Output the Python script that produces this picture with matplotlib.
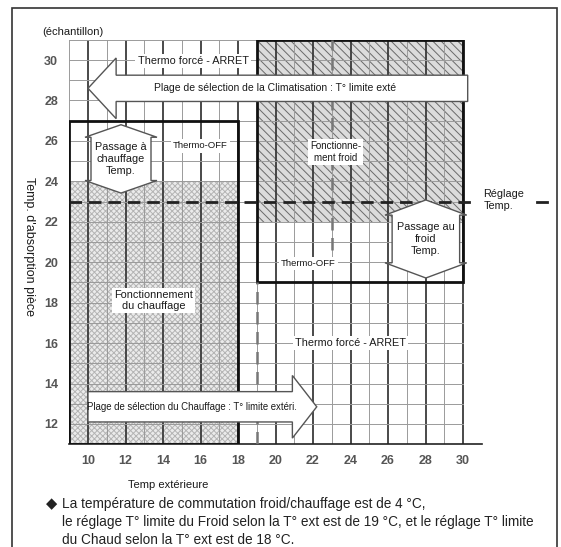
import numpy as np
import matplotlib

matplotlib.use('Agg')
import matplotlib.pyplot as plt
import matplotlib.patches as mpatches

plt.rcParams['font.family'] = ['Liberation Sans', 'DejaVu Sans']
plt.rcParams['hatch.linewidth'] = 0.7

# ===================== 数据 =====================
x_ticks = [10, 12, 14, 16, 18, 20, 22, 24, 26, 28, 30]
y_ticks = [12, 14, 16, 18, 20, 22, 24, 26, 28, 30]
x_min, x_max, x_axis_end = 9, 30, 31
y_min, y_max = 11, 31

heat_box = (9, 18, 11, 27)      # x0, x1, y0, y1
heat_dots_top = 24
cool_box = (19, 30, 19, 31)
cool_hatch_bottom = 22
setpoint = 23
cool_limit = 19
cool_dash_x = 23

# 箭头参数 (中心, 范围, 宽度)
clim_arrow = dict(y=28.6, x_tail=30.25, x_tip=10.0, half_w=0.65, head_half=1.5, head_len=1.5)
chauf_arrow = dict(y=12.85, x_tail=10.0, x_tip=22.2, half_w=0.75, head_half=1.55, head_len=1.3)
pass_heat = dict(cx=11.76, y_top=26.8, y_bot=23.42, half_w=1.6, head_half=1.92, head_len=0.62)
pass_cool = dict(cx=28.02, y_top=23.08, y_bot=19.22, half_w=1.8, head_half=2.18, head_len=0.75)

footer = ["La température de commutation froid/chauffage est de 4 °C,",
          "le réglage T° limite du Froid selon la T° ext est de 19 °C, et le réglage T° limite",
          "du Chaud selon la T° ext est de 18 °C."]

W, H = 561, 547
fig = plt.figure(figsize=(W / 100, H / 100), dpi=100)
ax = fig.add_axes([69.25 / W, 1 - 444.2 / H, 412.5 / W, 404.4 / H])
ax.set_xlim(x_min, x_axis_end)
ax.set_ylim(y_min, y_max)

# 外框
fig.patches.append(mpatches.Rectangle((12 / W, -0.05), (557 - 12) / W, (1 - 8 / H) + 0.05,
                                      transform=fig.transFigure, fill=False,
                                      edgecolor='#333333', linewidth=1.2))

# 1. 底纹区域
x0, x1, y0, y1 = heat_box
ax.add_patch(mpatches.Rectangle((x0, y0), x1 - x0, heat_dots_top - y0, facecolor='#ebebeb',
                                edgecolor='#b4b4b4', hatch='xxxxxx', linewidth=0, zorder=1))
x0, x1, y0, y1 = cool_box
ax.add_patch(mpatches.Rectangle((x0, cool_hatch_bottom), x1 - x0, y1 - cool_hatch_bottom,
                                facecolor='#dcdcdc', edgecolor='#6a6a6a', hatch='\\' * 4,
                                linewidth=0, zorder=1))

# 2. 网格
for xv in range(x_min, x_max + 1):
    major = xv % 2 == 0
    ax.plot([xv, xv], [y_min, y_max], color='#3a3a3a' if major else '#9a9a9a',
            linewidth=1.3 if major else 0.7, zorder=2)
for yv in range(y_min, y_max + 1):
    ax.plot([x_min, x_max], [yv, yv], color='#9a9a9a', linewidth=0.7, zorder=2)

# 3. 边框与虚线
for (x0, x1, y0, y1) in (heat_box, cool_box):
    ax.add_patch(mpatches.Rectangle((x0, y0), x1 - x0, y1 - y0, fill=False,
                                    edgecolor='#111111', linewidth=2.0, zorder=3))
ax.plot([cool_limit, cool_limit], [y_min, cool_box[2]], color='#777777', linewidth=1.8,
        dashes=(5, 3), zorder=3)
ax.plot([cool_dash_x, cool_dash_x], [20.6, y_max], color='#777777', linewidth=1.8,
        dashes=(5, 3), zorder=3)
ax.plot([x_min, 30.75], [setpoint, setpoint], color='#222222', linewidth=2.0,
        dashes=(4.5, 2.5), zorder=3, clip_on=False)
ax.plot([33.95, 34.5], [setpoint, setpoint], color='#222222', linewidth=2.0,
        zorder=3, clip_on=False)


# 4. 箭头
def h_arrow(p):
    d = np.sign(p['x_tip'] - p['x_tail'])
    xb = p['x_tip'] - d * p['head_len']
    y = p['y']
    xs = [p['x_tail'], xb, xb, p['x_tip'], xb, xb, p['x_tail']]
    ys = [y - p['half_w'], y - p['half_w'], y - p['head_half'], y,
          y + p['head_half'], y + p['half_w'], y + p['half_w']]
    return list(zip(xs, ys))


def v_arrow(p):
    cx, t, b = p['cx'], p['y_top'], p['y_bot']
    ht, hb = t - p['head_len'], b + p['head_len']
    xs = [cx, cx + p['head_half'], cx + p['half_w'], cx + p['half_w'], cx + p['head_half'],
          cx, cx - p['head_half'], cx - p['half_w'], cx - p['half_w'], cx - p['head_half']]
    ys = [t, ht, ht, hb, hb, b, hb, hb, ht, ht]
    return list(zip(xs, ys))


for verts in (h_arrow(clim_arrow), h_arrow(chauf_arrow), v_arrow(pass_heat), v_arrow(pass_cool)):
    ax.add_patch(mpatches.Polygon(verts, closed=True, facecolor='white', edgecolor='#555555',
                                  linewidth=1.0, zorder=4, clip_on=False))

# 5. 文字
box = dict(facecolor='white', edgecolor='none', pad=1.5)
tc = '#1a1a1a'
ax.text(15.6, 29.95, "Thermo forcé - ARRET", ha='center', va='center', fontsize=7.8,
        color=tc, bbox=box, zorder=5)
ax.text(20.0, clim_arrow['y'], "Plage de sélection de la Climatisation : T° limite exté",
        ha='center', va='center', fontsize=7.5, color=tc, zorder=5)
ax.text(16.0, 25.75, "Thermo-OFF", ha='center', va='center', fontsize=6.8, color=tc,
        bbox=box, zorder=5)
ax.text(pass_heat['cx'], 25.1, "Passage à\nchauffage\nTemp.", ha='center', va='center',
        fontsize=7.8, color=tc, linespacing=1.2, zorder=5)
ax.text(23.2, 25.45, "Fonctionne-\nment froid", ha='center', va='center', fontsize=7.0,
        color=tc, linespacing=1.2, bbox=box, zorder=5)
ax.text(31.1, 23.08, "Réglage\nTemp.", ha='left', va='center', fontsize=7.8, color=tc,
        linespacing=1.2, zorder=5, clip_on=False)
ax.text(pass_cool['cx'], 21.15, "Passage au\nfroid\nTemp.", ha='center', va='center',
        fontsize=7.8, color=tc, linespacing=1.2, zorder=5)
ax.text(21.75, 19.95, "Thermo-OFF", ha='center', va='center', fontsize=6.8, color=tc,
        bbox=box, zorder=5)
ax.text(13.5, 18.1, "Fonctionnement\ndu chauffage", ha='center', va='center', fontsize=7.8,
        color=tc, linespacing=1.2, bbox=box, zorder=5)
ax.text(24.0, 16.0, "Thermo forcé - ARRET", ha='center', va='center', fontsize=7.8,
        color=tc, bbox=box, zorder=5)
ax.text(15.55, chauf_arrow['y'], "Plage de sélection du Chauffage : T° limite extéri.",
        ha='center', va='center', fontsize=6.9, color=tc, zorder=5)

ax.text(7.55, 31.4, "(échantillon)", ha='left', va='center', fontsize=8, color=tc, clip_on=False)
ax.text(6.85, 20.8, "Temp. d'absorption pièce", rotation=270, ha='center', va='center',
        fontsize=9, color=tc, clip_on=False)
ax.text(14.3, 9.0, "Temp extérieure", ha='center', va='center', fontsize=8, color=tc,
        clip_on=False)

# 6. 坐标轴
ax.set_xticks(x_ticks)
ax.set_yticks(y_ticks)
ax.tick_params(length=0, labelsize=9, labelcolor='#555555', pad=8)
for lab in ax.get_xticklabels() + ax.get_yticklabels():
    lab.set_fontweight('bold')
for s in ('top', 'right', 'left'):
    ax.spines[s].set_visible(False)
ax.spines['bottom'].set_color('#222222')
ax.spines['bottom'].set_linewidth(1.2)
ax.set_facecolor('white')

# 7. 注释
fig.text(46 / W, 1 - 504 / H, "◆", ha='left', va='center', fontsize=10.5, color='#222222',
         family=['DejaVu Sans'])
for i, line in enumerate(footer):
    fig.text(62 / W, 1 - (504 + 18 * i) / H, line, ha='left', va='center', fontsize=9.8,
             color='#222222', family=['Liberation Sans', 'DejaVu Sans'])

fig.savefig('out.png', dpi=100)
